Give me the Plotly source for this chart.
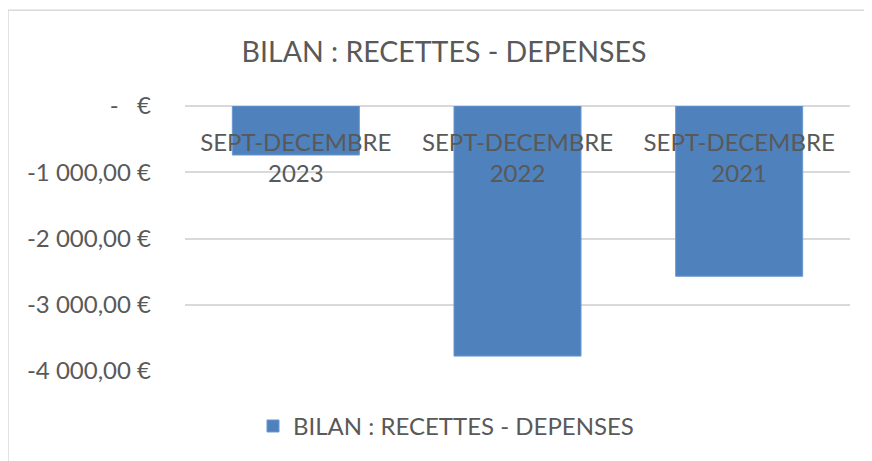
import plotly.graph_objects as go

categories = ["SEPT-DECEMBRE 2023", "SEPT-DECEMBRE 2022", "SEPT-DECEMBRE 2021"]
tick_labels = ["SEPT-DECEMBRE<br>2023", "SEPT-DECEMBRE<br>2022", "SEPT-DECEMBRE<br>2021"]
values = [-740, -3775, -2570]
series_name = "BILAN : RECETTES - DEPENSES"
y_tickvals = [0, -1000, -2000, -3000, -4000]
y_ticktext = ["-   €", "-1 000,00 €", "-2 000,00 €", "-3 000,00 €", "-4 000,00 €"]

# page has an 8px body margin
OFF = 8
W, H = 864, 453
ML = 185 - OFF
MT = 106 - OFF
MR = W - (850 - OFF)
MB = H - (371.5 - OFF)
pw = W - ML - MR
ph = H - MT - MB

TXT = "#595959"
FONT = "Lato"
FS = 24

fig = go.Figure()
fig.add_trace(go.Bar(
    x=categories, y=values, name=series_name,
    marker=dict(color="#4f81bd", line=dict(color="#6a98d0", width=1)),
    showlegend=True,
))

fig.update_layout(
    width=W, height=H,
    margin=dict(l=ML, r=MR, t=MT, b=MB, autoexpand=False),
    paper_bgcolor="white", plot_bgcolor="white",
    font=dict(family=FONT, color=TXT, size=FS),
    bargap=0.427,
    title=dict(text=series_name, x=(444 - OFF) / W, xanchor="center",
               y=1 - (52 - OFF) / H, yanchor="middle",
               font=dict(family=FONT, size=28.5, color=TXT)),
    showlegend=True,
    legend=dict(orientation="h", x=(446 - 185) / pw, xanchor="center",
                y=1 - (427 - 106) / ph, yanchor="middle",
                font=dict(family=FONT, size=FS, color=TXT)),
    xaxis=dict(
        tickmode="array", tickvals=categories, ticktext=tick_labels,
        anchor="free", position=1, side="bottom",
        showline=False, ticks="", showgrid=False, zeroline=False,
        tickfont=dict(family=FONT, size=FS, color=TXT),
        ticklabelstandoff=20,
    ),
    yaxis=dict(
        range=[-4000, 0], tickmode="array", tickvals=y_tickvals, ticktext=y_ticktext,
        showgrid=True, gridcolor="#d9d9d9", gridwidth=1.5,
        zeroline=True, zerolinecolor="#d9d9d9", zerolinewidth=1.5,
        showline=False, ticks="", ticklabelstandoff=33,
        tickfont=dict(family=FONT, size=FS, color=TXT),
    ),
    shapes=[dict(type="rect", xref="paper", yref="paper",
                 x0=(8 - 185) / pw, x1=(W + 40 - 185) / pw,
                 y0=1 - (H + 40 - 106) / ph, y1=1 + (106 - 10) / ph,
                 line=dict(color="#d9d9d9", width=1.5), layer="below")],
)

fig.write_html("out.html")
